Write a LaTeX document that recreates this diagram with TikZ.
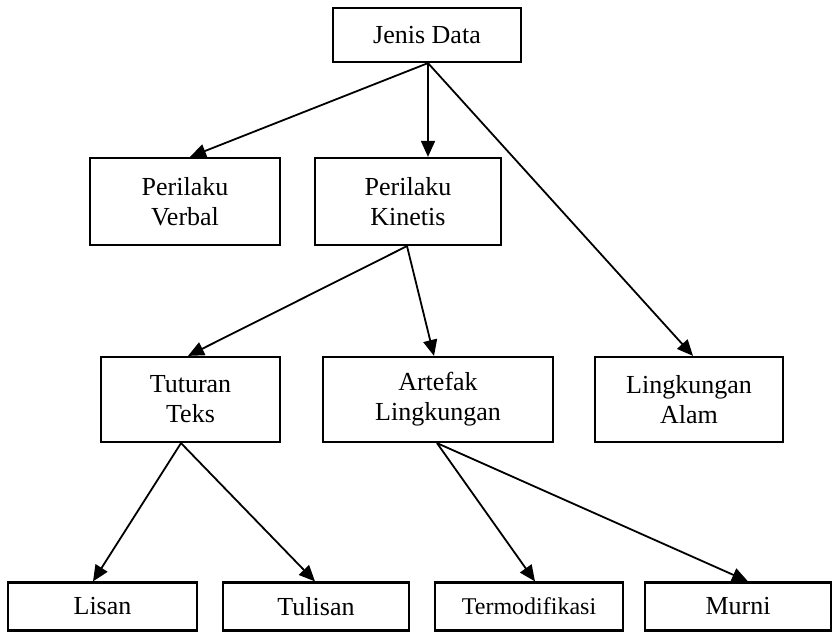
\documentclass[tikz,border=0pt]{standalone}
\usepackage{fontspec}
\setmainfont{Liberation Serif}
\usetikzlibrary{arrows.meta}
\begin{document}
\begin{tikzpicture}[x=1pt,y=-1pt,
  box/.style={draw=black,line width=2.2pt,fill=white,align=center,inner sep=0pt,
    font=\fontsize{26}{30}\selectfont},
  arr/.style={line width=1.8pt,-{Triangle[length=16pt,width=14pt]}}]
\useasboundingbox (0,0) rectangle (833,632);
\node[box,minimum width=188pt,minimum height=54pt] (jenis) at (427,35) {Jenis Data};
\node[box,minimum width=190pt,minimum height=87pt] (verbal) at (185,201.5) {Perilaku\\Verbal};
\node[box,minimum width=186pt,minimum height=87pt] (kinetis) at (408,201.5) {Perilaku\\Kinetis};
\node[box,minimum width=179pt,minimum height=85pt] (tuturan) at (190.5,399.5) {Tuturan\\Teks};
\node[box,minimum width=230pt,minimum height=85pt] (artefak) at (438,399.5) {Artefak\\Lingkungan};
\node[box,minimum width=188pt,minimum height=85pt] (alam) at (689,399.5) {Lingkungan\\Alam};
\node[box,minimum width=189pt,minimum height=48pt] (lisan) at (102.5,606.5) {Lisan};
\node[box,minimum width=186pt,minimum height=48pt] (tulisan) at (316,606.5) {Tulisan};
\node[box,minimum width=188pt,minimum height=48pt,font=\fontsize{24}{28}\selectfont] (termo) at (529,606.5) {Termodifikasi};
\node[box,minimum width=186pt,minimum height=48pt] (murni) at (738,606.5) {Murni};
\draw[arr] ([xshift=1pt]jenis.south) -- ([xshift=5pt]verbal.north);
\draw[arr] ([xshift=1pt]jenis.south) -- ([xshift=20pt]kinetis.north);
\draw[arr] ([xshift=1pt]jenis.south) -- ([xshift=4pt]alam.north);
\draw[arr] ([xshift=-1pt]kinetis.south) -- ([xshift=-2.5pt]tuturan.north);
\draw[arr] ([xshift=-1pt]kinetis.south) -- ([xshift=-4pt]artefak.north);
\draw[arr] ([xshift=-9.5pt]tuturan.south) -- ([xshift=-9.5pt]lisan.north);
\draw[arr] ([xshift=-9.5pt]tuturan.south) -- ([xshift=-1pt]tulisan.north);
\draw[arr] ([xshift=-1pt]artefak.south) -- ([xshift=6pt]termo.north);
\draw[arr] ([xshift=-1pt]artefak.south) -- ([xshift=10pt]murni.north);
\end{tikzpicture}
\end{document}
